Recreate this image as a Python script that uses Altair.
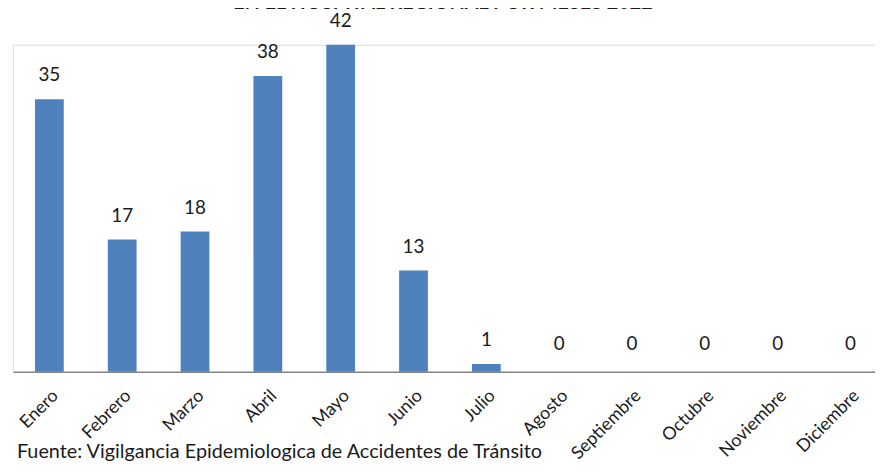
import altair as alt
import pandas as pd

meses = ["Enero", "Febrero", "Marzo", "Abril", "Mayo", "Junio", "Julio",
         "Agosto", "Septiembre", "Octubre", "Noviembre", "Diciembre"]
casos = [35, 17, 18, 38, 42, 13, 1, 0, 0, 0, 0, 0]
titulo = "EN EL HOSPITAL REGIONAL POR MESES 2022"
fuente = "Fuente: Vigilgancia Epidemiologica de Accidentes de  Tránsito"

df = pd.DataFrame({"mes": meses, "casos": casos})

FONT = "Lato"
TXT = "#1a1a1a"

x = alt.X("mes:N", sort=meses, title=None,
          scale=alt.Scale(range=[0, 882], paddingInner=0.605, paddingOuter=0.3025),
          axis=alt.Axis(labelAngle=-45, labelAlign="right", labelBaseline="top",
                        labelPadding=15, ticks=False, domainColor="#868686",
                        domainWidth=1.5, labelFont=FONT, labelFontSize=18,
                        labelColor=TXT, labelOverlap=False))
y = alt.Y("casos:Q", title=None,
          scale=alt.Scale(domain=[0, 42], nice=False, zero=True),
          axis=None)

base = alt.Chart(df)

bars = base.mark_bar(color="#4F81BD").encode(x=x, y=y)

labels_nz = base.transform_filter("datum.casos > 0").mark_text(
    baseline="alphabetic", dy=-18, font=FONT, fontSize=19, color=TXT
).encode(x=x, y=y, text="casos:Q")

labels_z = base.transform_filter("datum.casos == 0").mark_text(
    baseline="alphabetic", dy=-22, font=FONT, fontSize=19, color=TXT
).encode(x=x, y=y, text="casos:Q")

title_df = pd.DataFrame({"t": [titulo]})
title_mark = alt.Chart(title_df).mark_text(
    font=FONT, fontSize=20, fontWeight="bold", align="center",
    baseline="alphabetic", color=TXT
).encode(x=alt.value(434), y=alt.value(-36), text="t:N")

src_df = pd.DataFrame({"t": [fuente]})
src_mark = alt.Chart(src_df).mark_text(
    font=FONT, fontSize=20, align="left", baseline="alphabetic", color=TXT
).encode(x=alt.value(4), y=alt.value(417), text="t:N")

chart = alt.layer(bars, labels_nz, labels_z, title_mark, src_mark).properties(
    width=870, height=330,
    autosize=alt.AutoSizeParams(type="none"),
    padding={"left": 5, "top": 35, "right": 0, "bottom": 91},
).configure_view(stroke=None).configure(background="white")

chart.save("out.html", embed_options={"renderer": "svg", "actions": False})
